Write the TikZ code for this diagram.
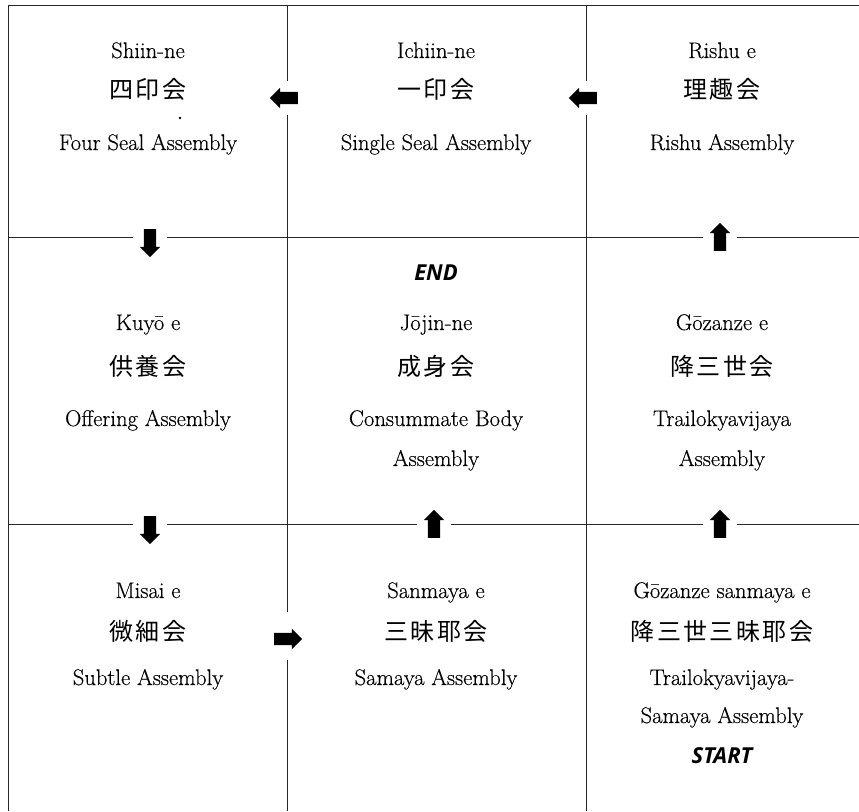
\documentclass[tikz,border=0pt]{standalone}
\usepackage{fontspec}
\newfontfamily\bookfont[FakeBold=0.4]{Latin Modern Roman}
\newfontfamily\jpfont[LetterSpace=10]{Noto Sans CJK JP}
\newfontfamily\markfont{Open Sans}
\usetikzlibrary{shapes.arrows}
\tikzstyle{rule}=[line width=0.9pt, black!85]
\tikzstyle{slot}=[inner sep=0pt, minimum size=34pt]
\tikzstyle{blockarrow}=[single arrow, fill=black, inner sep=6pt, minimum height=28pt,
  single arrow head extend=4pt, single arrow head indent=0pt]
\tikzstyle{entry}=[anchor=base, font=\bookfont\fontsize{22.6}{27}\selectfont]
\tikzstyle{kanji}=[anchor=base, font=\jpfont\fontsize{24}{28}\selectfont]
\tikzstyle{marker}=[anchor=base, font=\markfont\bfseries\itshape\fontsize{22}{26}\selectfont]

\begin{document}
\begin{tikzpicture}[x=1pt, y=-1pt]
  \useasboundingbox (0,0) rectangle (859,811);
  % slots that cut the rules round each arrow
  \node[slot] (w1) at (287,98) {};
  \node[slot] (w2) at (586,98) {};
  \node[slot] (d1) at (150,237) {};
  \node[slot] (u1) at (720,237) {};
  \node[slot] (d2) at (150,524) {};
  \node[slot] (u2) at (434,524) {};
  \node[slot] (u3) at (720,524) {};
  \node[slot, minimum height=47pt] (e1) at (287,636) {};
  % grid
  \draw[rule] (8,811) -- (8,5) -- (859,5);
  \draw[rule] (287,5) -- (w1) -- (e1) -- (287,811);
  \draw[rule] (586,5) -- (w2) -- (586,811);
  \draw[rule] (8,237) -- (d1) -- (u1) -- (859,237);
  \draw[rule] (8,524) -- (d2) -- (u2) -- (u3) -- (859,524);
  % arrows
  \node[blockarrow, shape border rotate=180] at (w1) {};
  \node[blockarrow, shape border rotate=180] at (w2) {};
  \node[blockarrow, shape border rotate=270, yshift=-3pt] at (d1) {};
  \node[blockarrow, shape border rotate=90, yshift=-3pt] at (u1) {};
  \node[blockarrow, shape border rotate=270, yshift=-3pt] at (d2) {};
  \node[blockarrow, shape border rotate=90, yshift=-3pt] at (u2) {};
  \node[blockarrow, shape border rotate=90, yshift=-3pt] at (u3) {};
  \node[blockarrow, xshift=-2pt, yshift=-3pt] at (e1) {};

  % top row
  \node[entry] (shiin) at (148,58) {Shiin-ne};
  \node[kanji] (shiinjp) at (148,98) {四印会};
  \fill (180,118) circle (1.3);
  \node[entry] (shiinen) at (148,150) {Four Seal Assembly};
  \node[entry] (ichiin) at (436,58) {Ichiin-ne};
  \node[kanji] (ichiinjp) at (436,98) {一印会};
  \node[entry] (ichiinen) at (436,150) {Single Seal Assembly};
  \node[entry] (rishu) at (722,58) {Rishu e};
  \node[kanji] (rishujp) at (722,98) {理趣会};
  \node[entry] (rishuen) at (722,150) {Rishu Assembly};

  % middle row
  \node[marker] (end) at (436,280) {END};
  \node[entry] (kuyo) at (148,330) {Kuyō e};
  \node[kanji] (kuyojp) at (148,375) {供養会};
  \node[entry] (kuyoen) at (148,426) {Offering Assembly};
  \node[entry] (jojin) at (436,330) {Jōjin-ne};
  \node[kanji] (jojinjp) at (436,375) {成身会};
  \node[entry] (jojinen) at (436,426) {Consummate Body};
  \node[entry] (jojinen2) at (436,466) {Assembly};
  \node[entry] (gozanze) at (722,330) {Gōzanze e};
  \node[kanji] (gozanzejp) at (722,375) {降三世会};
  \node[entry] (gozanzeen) at (722,426) {Trailokyavijaya};
  \node[entry] (gozanzeen2) at (722,466) {Assembly};

  % bottom row
  \node[entry] (misai) at (148,598) {Misai e};
  \node[kanji] (misaijp) at (148,640) {微細会};
  \node[entry] (misaien) at (148,685) {Subtle Assembly};
  \node[entry] (sanmaya) at (436,598) {Sanmaya e};
  \node[kanji] (sanmayajp) at (436,640) {三昧耶会};
  \node[entry] (sanmayaen) at (436,685) {Samaya Assembly};
  \node[entry] (gsanmaya) at (722,598) {Gōzanze sanmaya e};
  \node[kanji] (gsanmayajp) at (722,640) {降三世三昧耶会};
  \node[entry] (gsanmayaen) at (722,685) {Trailokyavijaya-};
  \node[entry] (gsanmayaen2) at (722,723) {Samaya Assembly};
  \node[marker] (start) at (722,763) {START};
\end{tikzpicture}
\end{document}
